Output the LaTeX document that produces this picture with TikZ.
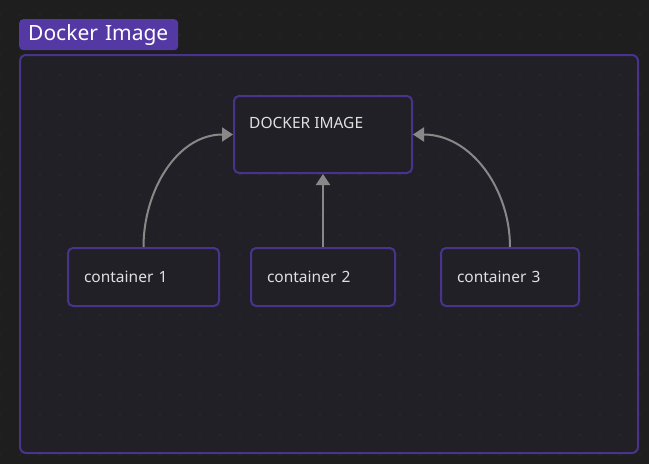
\documentclass[tikz,border=0pt]{standalone}
\usepackage{fontspec}
\setmainfont{Noto Sans}
\usetikzlibrary{arrows.meta}

\definecolor{canvas}{RGB}{30,30,30}
\definecolor{panel}{RGB}{33,32,39}
\definecolor{violet}{RGB}{72,52,140}
\definecolor{badge}{RGB}{84,57,164}
\definecolor{wire}{RGB}{136,136,136}
\definecolor{dotc}{RGB}{60,60,64}
\definecolor{ink}{RGB}{224,224,224}

\begin{document}
\begin{tikzpicture}[x=1pt, y=-1pt,
	box/.style={draw=violet, line width=2pt, fill=panel, rounded corners=5pt, text=ink, font=\fontsize{15.5}{18}\selectfont},
	cont/.style={box, anchor=north west, minimum height=58pt, inner xsep=16pt, inner ysep=0pt, align=left},
	link/.style={draw=wire, line width=2pt, -{Triangle[length=11pt, width=14pt]}}]
	\useasboundingbox (0,0) rectangle (649,464);
	\fill[canvas] (0,0) rectangle (649,464);
	% group frame and dot grid
	\fill[panel, rounded corners=6pt] (20,55) rectangle (638,453);
	\foreach \x in {0,20,...,640}
	{
		\foreach \y in {15,35,...,455}
		{
			\fill[dotc] (\x,\y) circle (0.7pt);
		}
	}
	\draw[violet, line width=2pt, rounded corners=6pt] (20,55) rectangle (638,453);
	\node[fill=badge, rounded corners=4pt, anchor=north west, minimum height=31pt, inner xsep=9pt, inner ysep=0pt, text width=141pt, align=left, text=white, font=\fontsize{21}{24}\selectfont] (title) at (19,19) {Docker Image};
	% image and containers
	\node[box, anchor=north west, minimum width=178pt, minimum height=77pt] (img) at (233,95) {};
	\node[anchor=base west, inner sep=0pt, text=ink, font=\fontsize{15.5}{18}\selectfont] (imgtext) at (249,128) {DOCKER IMAGE};
	\node[cont, text width=119pt] (c1) at (67,247) {container 1};
	\node[cont, text width=112pt] (c2) at (250,247) {container 2};
	\node[cont, text width=106pt] (c3) at (440,247) {container 3};
	\draw[link] (c1.north) to[out=90, in=180] (img.west);
	\draw[link] (c2.north) -- (img.south);
	\draw[link] (c3.north) to[out=90, in=0] (img.east);
\end{tikzpicture}
\end{document}
